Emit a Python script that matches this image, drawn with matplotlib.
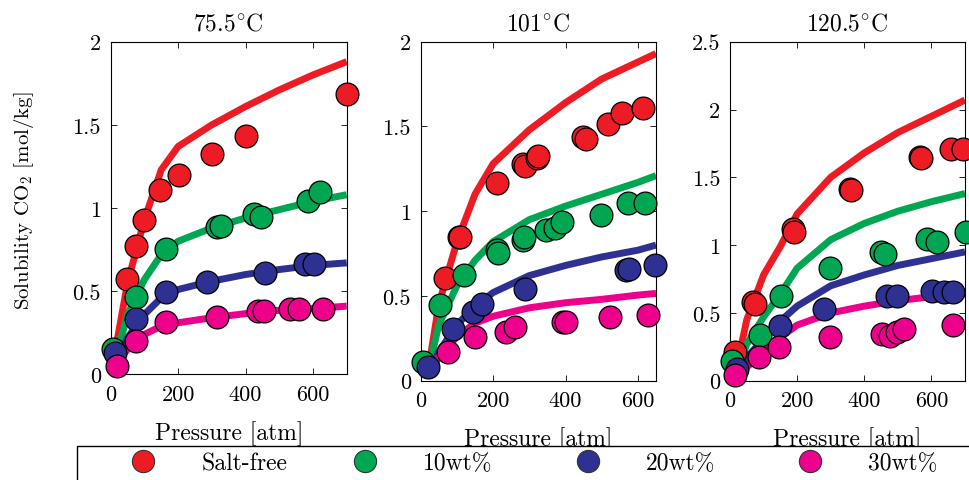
import matplotlib
matplotlib.use("Agg")
import matplotlib.pyplot as plt
from matplotlib.lines import Line2D
from matplotlib.patches import Rectangle

plt.rcParams['font.family'] = ['cmr10', 'DejaVu Serif']
plt.rcParams['mathtext.fontset'] = 'cm'
plt.rcParams['axes.formatter.use_mathtext'] = True

# ---------------- data ----------------
titles = ["75.5$^{\\circ}$C", "101$^{\\circ}$C", "120.5$^{\\circ}$C"]
series_names = ["Salt-free", "10wt%", "20wt%", "30wt%"]
colors = ["#ED1C24", "#00A651", "#2E3192", "#EC008C"]
xlims = [(0, 700), (0, 650), (0, 700)]
ylims = [(0, 2), (0, 2), (0, 2.5)]
xticks = [0, 200, 400, 600]
yticks_1 = [0, 0.5, 1, 1.5, 2]
yticklabels_1 = ["0", "0.5", "1", "1.5", "2"]
yticks_3 = [0, 0.5, 1, 1.5, 2, 2.5]
yticklabels_3 = ["0", "0.5", "1", "1.5", "2", "2.5"]

# ---- 75.5 C ----
p1_model = [10, 50, 100, 150, 200, 300, 400, 500, 600, 700]
p1_salt0_model = [0.10, 0.55, 0.93, 1.23, 1.37, 1.50, 1.61, 1.71, 1.80, 1.88]
p1_salt10_model = [0.06, 0.36, 0.57, 0.72, 0.80, 0.88, 0.94, 0.99, 1.04, 1.08]
p1_salt20_model = [0.05, 0.22, 0.36, 0.46, 0.51, 0.56, 0.60, 0.63, 0.655, 0.67]
p1_salt30_model = [0.05, 0.15, 0.24, 0.29, 0.31, 0.34, 0.365, 0.385, 0.395, 0.41]

p1_salt0_x = [48, 76, 100, 147, 202, 301, 401, 700]
p1_salt0_y = [0.573, 0.773, 0.928, 1.11, 1.20, 1.325, 1.43, 1.685]
p1_salt10_x = [8, 76, 165, 316, 328, 424, 446, 585, 620]
p1_salt10_y = [0.15, 0.463, 0.753, 0.884, 0.894, 0.964, 0.944, 1.044, 1.094]
p1_salt20_x = [13, 76, 165, 287, 458, 575, 602]
p1_salt20_y = [0.13, 0.333, 0.493, 0.553, 0.609, 0.663, 0.663]
p1_salt30_x = [18, 76, 165, 316, 438, 455, 532, 559, 630]
p1_salt30_y = [0.05, 0.20, 0.313, 0.343, 0.383, 0.383, 0.393, 0.393, 0.393]

# ---- 101 C ----
p2_model = [20, 50, 100, 150, 200, 300, 400, 500, 600, 650]
p2_salt0_model = [0.05, 0.45, 0.82, 1.10, 1.28, 1.48, 1.64, 1.78, 1.88, 1.93]
p2_salt10_model = [0.05, 0.33, 0.56, 0.71, 0.82, 0.95, 1.03, 1.10, 1.17, 1.21]
p2_salt20_model = [0.03, 0.17, 0.33, 0.44, 0.52, 0.62, 0.68, 0.73, 0.77, 0.80]
p2_salt30_model = [0.02, 0.14, 0.26, 0.34, 0.38, 0.43, 0.46, 0.48, 0.505, 0.515]

p2_salt0_x = [67, 107, 108, 211, 283, 287, 320, 324, 449, 456, 517, 557, 614]
p2_salt0_y = [0.603, 0.850, 0.845, 1.166, 1.281, 1.265, 1.314, 1.324, 1.439, 1.427, 1.512, 1.581, 1.611]
p2_salt10_x = [7, 53, 119, 211, 213, 283, 285, 347, 370, 389, 499, 572, 619]
p2_salt10_y = [0.11, 0.445, 0.623, 0.771, 0.752, 0.830, 0.850, 0.889, 0.899, 0.939, 0.978, 1.047, 1.047]
p2_salt20_x = [21, 90, 145, 168, 288, 568, 575, 646]
p2_salt20_y = [0.08, 0.306, 0.405, 0.455, 0.543, 0.652, 0.660, 0.682]
p2_salt30_x = [76, 150, 237, 260, 393, 400, 524, 628]
p2_salt30_y = [0.168, 0.257, 0.287, 0.316, 0.346, 0.346, 0.375, 0.385]

# ---- 120.5 C ----
p3_model = [20, 50, 100, 150, 200, 300, 400, 500, 600, 700]
p3_salt0_model = [0.10, 0.45, 0.78, 0.99, 1.23, 1.50, 1.68, 1.83, 1.95, 2.07]
p3_salt10_model = [0.07, 0.27, 0.47, 0.64, 0.83, 1.04, 1.16, 1.25, 1.32, 1.38]
p3_salt20_model = [0.04, 0.17, 0.31, 0.44, 0.55, 0.70, 0.78, 0.85, 0.90, 0.95]
p3_salt30_model = [0.01, 0.10, 0.21, 0.32, 0.41, 0.50, 0.55, 0.59, 0.62, 0.64]

p3_salt0_x = [15, 68, 73, 189, 192, 357, 359, 566, 570, 658, 693]
p3_salt0_y = [0.21, 0.578, 0.565, 1.118, 1.098, 1.413, 1.405, 1.647, 1.640, 1.708, 1.708]
p3_salt10_x = [5, 88, 152, 299, 449, 461, 588, 618, 703]
p3_salt10_y = [0.147, 0.34, 0.627, 0.828, 0.946, 0.934, 1.045, 1.02, 1.094]
p3_salt20_x = [20, 150, 279, 468, 498, 603, 638, 664]
p3_salt20_y = [0.086, 0.406, 0.528, 0.627, 0.627, 0.664, 0.651, 0.651]
p3_salt30_x = [15, 85, 147, 299, 453, 478, 498, 518, 663]
p3_salt30_y = [0.04, 0.172, 0.246, 0.32, 0.344, 0.332, 0.356, 0.381, 0.41]

panels = [
    (p1_model, [p1_salt0_model, p1_salt10_model, p1_salt20_model, p1_salt30_model],
     [(p1_salt0_x, p1_salt0_y), (p1_salt10_x, p1_salt10_y), (p1_salt20_x, p1_salt20_y), (p1_salt30_x, p1_salt30_y)]),
    (p2_model, [p2_salt0_model, p2_salt10_model, p2_salt20_model, p2_salt30_model],
     [(p2_salt0_x, p2_salt0_y), (p2_salt10_x, p2_salt10_y), (p2_salt20_x, p2_salt20_y), (p2_salt30_x, p2_salt30_y)]),
    (p3_model, [p3_salt0_model, p3_salt10_model, p3_salt20_model, p3_salt30_model],
     [(p3_salt0_x, p3_salt0_y), (p3_salt10_x, p3_salt10_y), (p3_salt20_x, p3_salt20_y), (p3_salt30_x, p3_salt30_y)]),
]

# ---------------- figure ----------------
W, H = 969, 481
fig = plt.figure(figsize=(W / 100, H / 100), dpi=100)

def px_axes(l, t, r, b):
    return fig.add_axes([l / W, 1 - b / H, (r - l) / W, (b - t) / H])

axes = [px_axes(110.7, 42.7, 346.7, 375.3),
        px_axes(420.7, 42.7, 656.0, 381.7),
        px_axes(730.0, 42.7, 965.0, 381.7)]

for i, ax in enumerate(axes):
    pm, models, obs = panels[i]
    for k in range(4):
        ax.plot(pm, models[k], color=colors[k], lw=5, solid_capstyle='butt', zorder=2)
    for k in range(4):
        ax.scatter(obs[k][0], obs[k][1], s=270, color=colors[k], edgecolor='black',
                   linewidth=0.9, zorder=3, clip_on=False)
    ax.set_xlim(*xlims[i])
    ax.set_ylim(*ylims[i])
    ax.set_xticks(xticks)
    ax.set_xticklabels([str(t) for t in xticks])
    if i < 2:
        ax.set_yticks(yticks_1)
        ax.set_yticklabels(yticklabels_1)
    else:
        ax.set_yticks(yticks_3)
        ax.set_yticklabels(yticklabels_3)
    ax.tick_params(direction='in', top=True, right=True, length=4, width=0.6,
                   labelsize=16, pad=7)
    for sp in ax.spines.values():
        sp.set_linewidth(0.8)
    ax.set_title(titles[i], fontsize=17, pad=9)
    ax.set_xlabel("Pressure [atm]", fontsize=17, labelpad=12)

fig.text(24 / W, 1 - 201 / H, "Solubility CO$_2$ [mol/kg]", rotation=90,
         ha='center', va='center', fontsize=15)

# legend strip
fig.patches.append(Rectangle((77 / W, -0.05), 1.0, 0.05 + 1 - 447 / H,
                             transform=fig.transFigure, facecolor='white',
                             edgecolor='black', linewidth=1.0, clip_on=False))
marker_px = [143, 365, 588, 810]
LFS = 17
hl = 1.5
for k in range(4):
    h = Line2D([], [], marker='o', linestyle='none', markersize=16,
               markerfacecolor=colors[k], markeredgecolor='#333333', markeredgewidth=0.8)
    off = hl * LFS * 100 / 72 / 2
    fig.legend(handles=[h], labels=[series_names[k]], loc='center left',
               bbox_to_anchor=((marker_px[k] - off) / W, 1 - 464 / H),
               frameon=False, fontsize=LFS, handlelength=hl, handletextpad=1.72,
               borderpad=0, borderaxespad=0)

fig.savefig("out.png", dpi=100)
